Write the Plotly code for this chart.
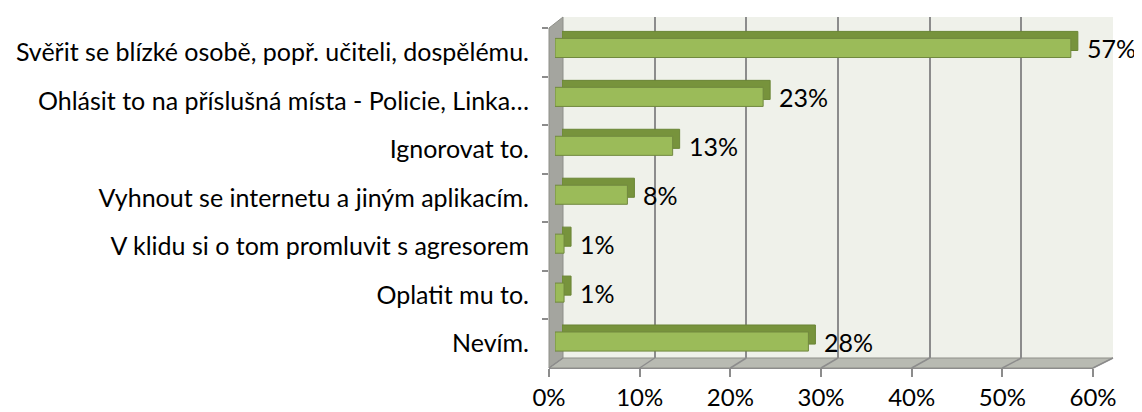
import plotly.graph_objects as go

categories = [
    "Svěřit se blízké osobě, popř. učiteli, dospělému.",
    "Ohlásit to na příslušná místa - Policie, Linka…",
    "Ignorovat to.",
    "Vyhnout se internetu a jiným aplikacím.",
    "V klidu si o tom promluvit s agresorem",
    "Oplatit mu to.",
    "Nevím.",
]
values = [57, 23, 13, 8, 1, 1, 28]
x_ticks = [0, 10, 20, 30, 40, 50, 60]
x_ticktext = ["0%", "10%", "20%", "30%", "40%", "50%", "60%"]

FONT = "Lato, 'Open Sans', sans-serif"
FS = 25
OFF = 8  # default body margin of the html page
W, H = 1142 - OFF, 412 - OFF
# plot-area bounds in page pixels
L, R, T, B = 549, 1113, 16, 368
PW, PH = R - L, B - T


def dx(a, b):
    return [(a - L) / PW, (b - L) / PW]


def dy(top, bottom):
    return [(B - bottom) / PH, (B - top) / PH]


def px(x):
    return (x - L) / PW


def py(y):
    return (B - y) / PH


n = len(categories)
yrange = [n - 0.5, -0.5]
BW = 0.39

fig = go.Figure()

fig.add_trace(go.Scatter(x=values, y=categories, mode="markers", marker=dict(opacity=0),
                         hoverinfo="skip", showlegend=False, xaxis="x", yaxis="y"))
fig.add_trace(go.Scatter(x=[0], y=[0], mode="markers", marker=dict(opacity=0),
                         hoverinfo="skip", showlegend=False, xaxis="x2", yaxis="y2"))
fig.add_trace(go.Bar(x=values, y=categories, orientation="h", width=BW,
                     marker=dict(color="#77933C", line=dict(color="#6A8535", width=1)),
                     hoverinfo="skip", showlegend=False, xaxis="x3", yaxis="y3"))
fig.add_trace(go.Bar(x=values, y=categories, orientation="h", width=BW,
                     marker=dict(color="#9BBB59", line=dict(color="#71893F", width=1)),
                     showlegend=False, xaxis="x4", yaxis="y4"))

shapes = []
shapes.append(dict(type="rect", xref="paper", yref="paper", x0=px(563), x1=px(1113),
                   y0=py(358), y1=py(17), fillcolor="#EFF1EA", line=dict(width=0), layer="below"))
shapes.append(dict(type="path", xref="paper", yref="paper",
                   path=f"M {px(549)} {py(28)} L {px(563)} {py(17)} L {px(563)} {py(358)} L {px(549)} {py(368)} Z",
                   fillcolor="#A4A59F", line=dict(color="#8E8F89", width=1), layer="below"))
shapes.append(dict(type="path", xref="paper", yref="paper",
                   path=f"M {px(549)} {py(368)} L {px(563)} {py(358)} L {px(1113)} {py(358)} L {px(1093)} {py(368)} Z",
                   fillcolor="#B8BAB2", line=dict(color="#8E8F89", width=1), layer="below"))
for v in x_ticks:
    fx = 549 + v * (1093 - 549) / 60
    bx = 563 + v * (1113 - 563) / 60
    shapes.append(dict(type="line", xref="paper", yref="paper", x0=px(fx), y0=py(368),
                       x1=px(bx), y1=py(358), line=dict(color="#8C8C8C", width=1.5), layer="below"))

annotations = []
for c, v in zip(categories, values):
    annotations.append(dict(x=v, y=c, xref="x4", yref="y4", text=f"{v}%", showarrow=False,
                            xanchor="left", yanchor="middle", xshift=14,
                            font=dict(family=FONT, size=FS, color="#000000")))

fig.update_layout(
    width=W, height=H, autosize=False,
    margin=dict(l=L - OFF, r=1142 - R, t=T - OFF, b=412 - B, pad=0, autoexpand=False),
    paper_bgcolor="white", plot_bgcolor="rgba(0,0,0,0)",
    font=dict(family=FONT, size=FS, color="#000000"),
    shapes=shapes, annotations=annotations,
    xaxis=dict(domain=dx(549, 1093), range=[0, 60], tickvals=x_ticks, ticktext=x_ticktext,
               ticks="outside", ticklen=8, tickcolor="#8C8C8C", tickwidth=1.5,
               tickfont=dict(size=24),
               showgrid=False, zeroline=False, showline=True, linecolor="#8C8C8C",
               ticklabelstandoff=0, anchor="y", fixedrange=True, automargin=False),
    yaxis=dict(domain=dy(28, 368), type="category", categoryorder="array", categoryarray=categories,
               range=yrange, tickson="boundaries", ticks="outside", ticklen=6, tickcolor="#8C8C8C",
               tickwidth=1.5, showgrid=False, zeroline=False, showline=False, ticklabelstandoff=19,
               anchor="x", fixedrange=True, automargin=False),
    xaxis2=dict(domain=dx(563, 1113), range=[0, 60], tickvals=x_ticks, showticklabels=False,
                ticks="", showgrid=True, gridcolor="#8C8C8C", gridwidth=2, zeroline=False,
                anchor="y2", fixedrange=True, automargin=False),
    yaxis2=dict(domain=dy(17, 358), range=[0, 1], visible=False, anchor="x2", fixedrange=True,
                automargin=False),
    xaxis3=dict(domain=dx(562, 1105), range=[0, 60], visible=False, anchor="y3", fixedrange=True,
                automargin=False),
    yaxis3=dict(domain=dy(16.5, 359), type="category", categoryorder="array", categoryarray=categories,
                range=yrange, visible=False, anchor="x3", fixedrange=True, automargin=False),
    xaxis4=dict(domain=dx(555, 1098), range=[0, 60], visible=False, anchor="y4", fixedrange=True,
                automargin=False),
    yaxis4=dict(domain=dy(23.5, 366), type="category", categoryorder="array", categoryarray=categories,
                range=yrange, visible=False, anchor="x4", fixedrange=True, automargin=False),
)

fig.write_html("out.html")
